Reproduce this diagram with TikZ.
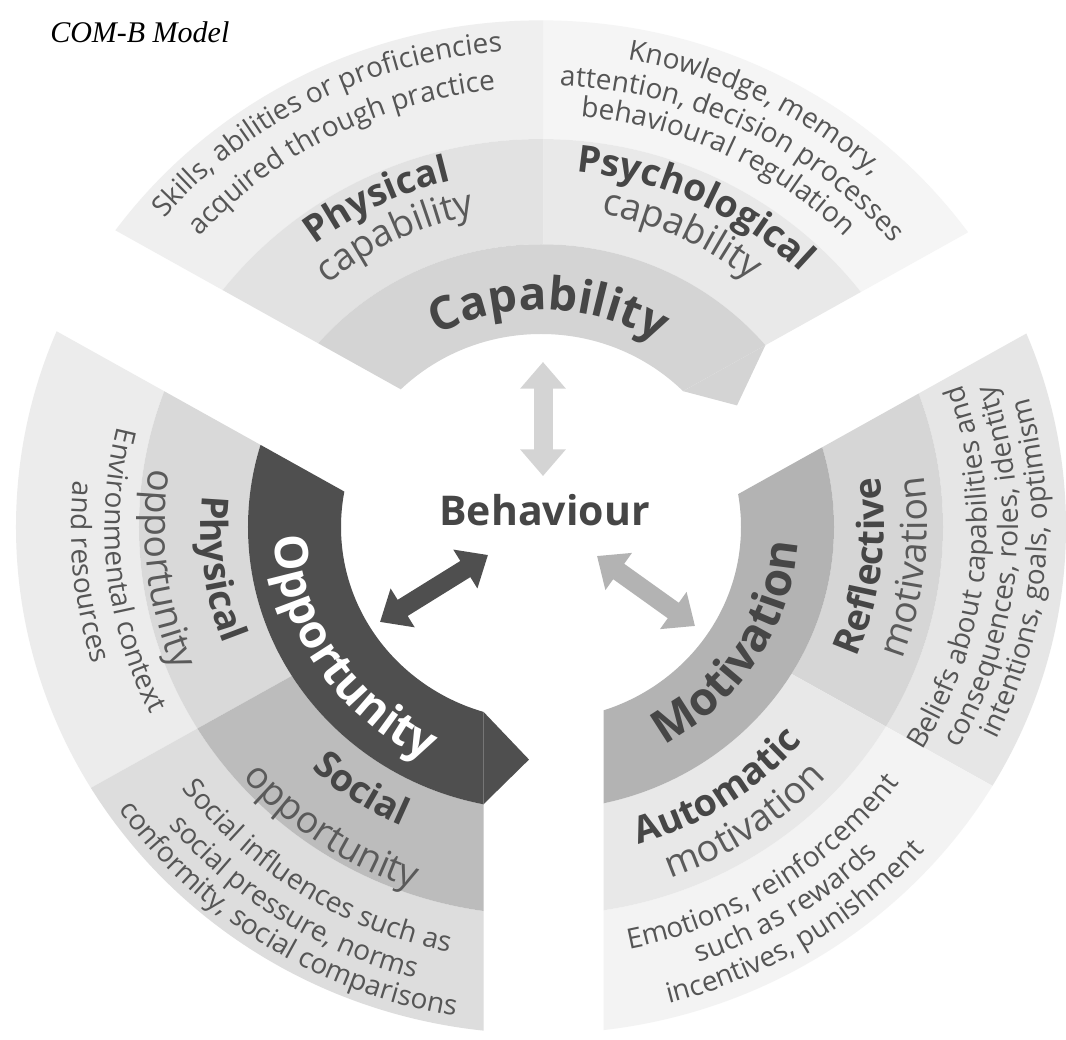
\documentclass[tikz,border=0pt]{standalone}
\usepackage{fontspec}
\setmainfont{Liberation Serif}
\newfontfamily\osans{Open Sans}
\usetikzlibrary{decorations.text,arrows.meta}
\definecolor{capIn}{HTML}{D4D4D4}
\definecolor{capMidL}{HTML}{E2E2E2}
\definecolor{capMidR}{HTML}{E9E9E9}
\definecolor{capOutL}{HTML}{EFEFEF}
\definecolor{capOutR}{HTML}{F5F5F5}
\definecolor{oppIn}{HTML}{4F4F4F}
\definecolor{oppMidP}{HTML}{D9D9D9}
\definecolor{oppMidS}{HTML}{BCBCBC}
\definecolor{oppOutP}{HTML}{ECECEC}
\definecolor{oppOutS}{HTML}{DDDDDD}
\definecolor{motIn}{HTML}{B3B3B3}
\definecolor{motMidR}{HTML}{D6D6D6}
\definecolor{motMidA}{HTML}{E8E8E8}
\definecolor{motOutR}{HTML}{E6E6E6}
\definecolor{motOutA}{HTML}{F3F3F3}
\definecolor{txtB}{HTML}{464646}
\definecolor{txtR}{HTML}{5A5A5A}
\definecolor{txtS}{HTML}{555555}
\newcommand\fBig{\osans\bfseries\fontsize{34.5pt}{40pt}\selectfont}
\newcommand\fMidB{\osans\bfseries\fontsize{28pt}{32pt}\selectfont}
\newcommand\fMidR{\osans\fontsize{28pt}{32pt}\selectfont}
\newcommand\fSm{\osans\fontsize{21pt}{24pt}\selectfont}
\newcommand\fBeh{\osans\bfseries\fontsize{30.75pt}{36pt}\selectfont}
\newcommand\arctext[4]{\path[decorate,decoration={text along path,text align=center,text={#4}}] (#1:#3) arc[start angle=#1,end angle=#2,radius=#3];}
\newcommand\ring[3]{\fill[#1,even odd rule] (0,0) circle[radius=#2] (0,0) circle[radius=#3];}
\newcommand\gwedge[3]{\clip (G) -- ([shift={(#1:2000)}]G) -- ([shift={(#2:2000)}]G) -- ([shift={(#3:2000)}]G) -- cycle;}
\newcommand\sclip[4]{\clip (#1) -- ([shift={(#2:1500)}]#1) -- ([shift={(#3:1500)}]#1) -- ([shift={(#4:1500)}]#1) -- cycle;}
\tikzset{dbl/.style={line width=14.25pt,{Triangle[width=33pt,length=20pt]}-{Triangle[width=33pt,length=20pt]}}}
\begin{document}
\begin{tikzpicture}[x=0.75pt,y=0.72375pt]
\def\rA{200}\def\rB{293}\def\rC{402}\def\rD{525}
\useasboundingbox (-541,-530.57) rectangle (525,546.11);
\fill[white] (-541,-530.57) rectangle (525,546.11);
\coordinate (G) at (2.5,-9);
\coordinate (Vc) at (2.5,60.28);
\coordinate (Vo) at (-57.5,-43.64);
\coordinate (Vm) at (62.5,-43.64);
% Capability sector
\begin{scope}
 \sclip{Vc}{150}{90}{30}
 \begin{scope}\gwedge{90}{150}{210}
  \ring{capOutL}{\rD}{\rC}\ring{capMidL}{\rC}{\rB}
 \end{scope}
 \begin{scope}\gwedge{90}{30}{-30}
  \ring{capOutR}{\rD}{\rC}\ring{capMidR}{\rC}{\rB}
 \end{scope}
 \ring{capIn}{\rB}{\rA}
\end{scope}
\fill[capIn] (142.0,140.8) -- (196,126) -- (224.4,188.4) -- cycle;
% Opportunity sector
\begin{scope}
 \sclip{Vo}{150}{210}{270}
 \begin{scope}\gwedge{210}{150}{90}
  \ring{oppOutP}{\rD}{\rC}\ring{oppMidP}{\rC}{\rB}
 \end{scope}
 \begin{scope}\gwedge{210}{270}{330}
  \ring{oppOutS}{\rD}{\rC}\ring{oppMidS}{\rC}{\rB}
 \end{scope}
 \ring{oppIn}{\rB}{\rA}
\end{scope}
\fill[oppIn] (-57.5,-191.55) -- (-12,-241) -- (-57.5,-287.3) -- cycle;
% Motivation sector
\begin{scope}
 \sclip{Vm}{270}{330}{30}
 \begin{scope}\gwedge{330}{30}{90}
  \ring{motOutR}{\rD}{\rC}\ring{motMidR}{\rC}{\rB}
 \end{scope}
 \begin{scope}\gwedge{330}{270}{210}
  \ring{motOutA}{\rD}{\rC}\ring{motMidA}{\rC}{\rB}
 \end{scope}
 \ring{motIn}{\rB}{\rA}
\end{scope}
% Capability texts
\arctext{148}{28}{225}{|\fBig\color{txtB}|Capability}
\arctext{176.5}{56.5}{370}{|\fMidB\color{txtB}|Physical}
\arctext{176.5}{56.5}{330}{|\fMidR\color{txtR}|capability}
\arctext{124.5}{4.5}{370}{|\fMidB\color{txtB}|Psychological}
\arctext{124.5}{4.5}{330}{|\fMidR\color{txtR}|capability}
\arctext{177.6}{57.6}{494}{|\fSm\color{txtS}|Skills, abilities or proficiencies}
\arctext{177.7}{57.7}{455}{|\fSm\color{txtS}|acquired through practice}
\arctext{123.2}{3.2}{492}{|\fSm\color{txtS}|Knowledge, memory,}
\arctext{123.3}{3.3}{458}{|\fSm\color{txtS}|attention, decision processes}
\arctext{124.2}{4.2}{427}{|\fSm\color{txtS}|behavioural regulation}
% Opportunity texts
\arctext{153}{273}{267}{|\fBig\color{white}|Opportunity}
\arctext{127.5}{247.5}{340}{|\fMidB\color{txtB}|Physical}
\arctext{126.5}{246.5}{396}{|\fMidR\color{txtR}|opportunity}
\arctext{176}{296}{340}{|\fMidB\color{txtB}|Social}
\arctext{175.5}{295.5}{396}{|\fMidR\color{txtR}|opportunity}
\arctext{126.2}{246.2}{436}{|\fSm\color{txtS}|Environmental context}
\arctext{125.7}{245.7}{470}{|\fSm\color{txtS}|and resources}
\arctext{177}{297}{450}{|\fSm\color{txtS}|Social influences such as}
\arctext{176.7}{296.7}{484}{|\fSm\color{txtS}|social pressure, norms}
\arctext{177}{297}{514}{|\fSm\color{txtS}|conformity, social comparisons}
% Motivation texts
\arctext{-92}{28}{257}{|\fBig\color{txtB}|Motivation}
\arctext{-67}{53}{343}{|\fMidB\color{txtB}|Reflective}
\arctext{-66.3}{53.7}{386}{|\fMidR\color{txtR}|motivation}
\arctext{-116.3}{3.7}{343}{|\fMidB\color{txtB}|Automatic}
\arctext{-115.7}{4.3}{386}{|\fMidR\color{txtR}|motivation}
\arctext{-65.9}{54.1}{446}{|\fSm\color{txtS}|Beliefs about capabilities and}
\arctext{-65.3}{54.7}{477}{|\fSm\color{txtS}|consequences, roles, identity}
\arctext{-65.1}{54.9}{506}{|\fSm\color{txtS}|intentions, goals, optimism}
\arctext{-117}{3}{446}{|\fSm\color{txtS}|Emotions, reinforcement}
\arctext{-117.3}{2.7}{478}{|\fSm\color{txtS}|such as rewards}
\arctext{-117.7}{2.3}{510}{|\fSm\color{txtS}|incentives, punishment}
% centre
\node[anchor=base,inner sep=0pt,font=\fBeh,text=txtB] (beh) at (3.5,2.07) {Behaviour};
\coordinate (ca1) at (2,171);
\coordinate (ca2) at (2,52.8);
\coordinate (oa1) at (-161,-98.4);
\coordinate (oa2) at (-53,-29);
\coordinate (ma1) at (56,-30.05);
\coordinate (ma2) at (154,-102.6);
\draw[dbl,draw=capIn] (ca1) -- (ca2);
\draw[dbl,draw=oppIn] (oa1) -- (oa2);
\draw[dbl,draw=motIn] (ma1) -- (ma2);
\node[anchor=base west,inner sep=0pt,font=\itshape\fontsize{22.5pt}{26pt}\selectfont] (title) at (-491,501.6) {COM-B Model};
\end{tikzpicture}
\end{document}
